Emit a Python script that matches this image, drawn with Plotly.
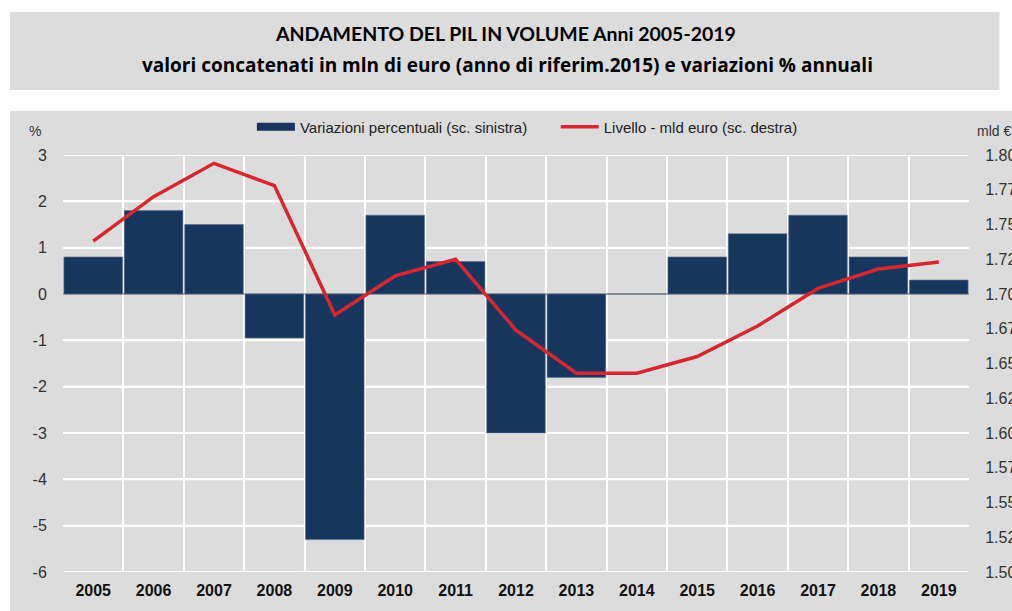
import plotly.graph_objects as go

years = list(range(2005, 2020))
year_labels = [str(y) for y in years]
pct_change = [0.8, 1.8, 1.5, -0.95, -5.3, 1.7, 0.7, -3.0, -1.8, 0.0, 0.8, 1.3, 1.7, 0.8, 0.3]
level_bn = [1.738, 1.770, 1.794, 1.778, 1.685, 1.713, 1.725, 1.674, 1.643, 1.643,
            1.655, 1.677, 1.704, 1.718, 1.723]
right_ticks = [1.5 + 0.025 * i for i in range(13)]
right_labels = ["1.500", "1.525", "1.550", "1.575", "1.600", "1.625", "1.650",
                "1.675", "1.700", "1.725", "1.750", "1.775", "1.800"]
left_ticks = [-6, -5, -4, -3, -2, -1, 0, 1, 2, 3]
left_labels = ["-6", "-5", "-4", "-3", "-2", "-1", "0", "1", "2", "3"]
left_range = [-6, 3]
right_range = [1.5, 1.8]

NAVY = "#17365d"
RED = "#d7262f"
BG = "#dcdcdc"
W, H = 1012, 611
L, R, T, B = 63, 969.5, 155, 572   # plot area in pixels
FONT = "Liberation Sans, Arial, sans-serif"


def px(x):
    return (x - L) / (R - L)


def py(y):
    return (B - y) / (B - T)


x_lo, x_hi = years[0] - 0.5, years[-1] + 0.5

# horizontal grid drawn as short per-year segments (joined visually by the vertical grid)
grid_x, grid_y, zero_x, zero_y = [], [], [], []
for v in left_ticks:
    for yr in years:
        if v == 0:
            zero_x += [yr - 0.5, yr + 0.5, None]
            zero_y += [v, v, None]
        else:
            grid_x += [yr - 0.485, yr + 0.485, None]
            grid_y += [v, v, None]

fig = go.Figure()
fig.add_trace(go.Scatter(x=grid_x, y=grid_y, mode="lines", line=dict(color="white", width=2),
                         hoverinfo="skip", showlegend=False, cliponaxis=False, yaxis="y"))
fig.add_trace(go.Scatter(x=zero_x, y=zero_y, mode="lines", line=dict(color="#8a8a8a", width=1.5),
                         hoverinfo="skip", showlegend=False, yaxis="y"))
# bars on the left scale
fig.add_trace(go.Bar(x=years, y=pct_change, marker=dict(color=NAVY, line=dict(color="#5a6f8c", width=0.6)),
                     showlegend=False, yaxis="y2", name="Variazioni percentuali (sc. sinistra)"))
fig.add_trace(go.Scatter(x=[None], y=[None], mode="lines", line=dict(color=NAVY, width=8), yaxis="y2",
                         name="Variazioni percentuali (sc. sinistra)", legend="legend"))
# level line on the right scale
fig.add_trace(go.Scatter(x=years, y=level_bn, mode="lines", line=dict(color=RED, width=3.5),
                         yaxis="y3", name="Livello - mld euro (sc. destra)", legend="legend2"))


def white_rect(x0, x1, y0, y1):
    return dict(type="rect", xref="paper", yref="paper", x0=px(x0), x1=px(x1), y0=py(y1), y1=py(y0),
                fillcolor="white", line=dict(width=0), layer="below")


frame_shapes = [
    white_rect(-20, 10, -20, 640),      # left white strip
    white_rect(-20, 1040, -20, 12),     # top white strip
    white_rect(-20, 1040, 90, 111),     # gap between title box and chart
    white_rect(1000, 1040, -20, 111),   # right of title box
]

fig.update_layout(
    width=W, height=H,
    margin=dict(l=L, r=W - R, t=T, b=H - B, autoexpand=False),
    paper_bgcolor=BG, plot_bgcolor=BG,
    bargap=0.03,
    xaxis=dict(range=[x_lo, x_hi], tickvals=years, ticktext=year_labels, automargin=False,
               showgrid=False, zeroline=False, ticks="outside", ticklen=4, tickcolor="rgba(0,0,0,0)",
               tickfont=dict(family=FONT, size=16, color="#111", weight="bold"),
               minor=dict(tickvals=[y - 0.5 for y in years] + [x_hi], showgrid=True,
                          gridcolor="white", gridwidth=2, ticks=""),
               fixedrange=True),
    yaxis=dict(range=left_range, tickvals=left_ticks, ticktext=left_labels, automargin=False,
               showgrid=True, gridcolor="white", gridwidth=2, zeroline=False,
               ticks="outside", ticklen=12, tickcolor="rgba(0,0,0,0)",
               tickfont=dict(family=FONT, size=16, color="#333")),
    yaxis2=dict(range=left_range, overlaying="y", side="left", showticklabels=False,
                showgrid=False, zeroline=False, automargin=False, ticks=""),
    yaxis3=dict(range=right_range, overlaying="y", side="right", tickvals=right_ticks,
                ticktext=right_labels, showgrid=False, zeroline=False, automargin=False,
                ticks="outside", ticklen=12, tickcolor="rgba(0,0,0,0)",
                tickfont=dict(family=FONT, size=16, color="#333")),
    legend=dict(x=px(252), y=py(127), xanchor="left", yanchor="middle", bgcolor="rgba(0,0,0,0)",
                font=dict(family=FONT, size=15, color="#222"), itemwidth=38),
    legend2=dict(x=px(556), y=py(127), xanchor="left", yanchor="middle", bgcolor="rgba(0,0,0,0)",
                 font=dict(family=FONT, size=15, color="#222"), itemwidth=38),
    shapes=frame_shapes,
    annotations=[
        dict(text="<b>ANDAMENTO DEL PIL IN VOLUME Anni 2005-2019</b>", xref="paper", yref="paper",
             x=px(506), y=py(33), showarrow=False, xanchor="center", yanchor="middle",
             font=dict(family="Lato, Open Sans, sans-serif", size=19.5, color="black")),
        dict(text="<b>valori concatenati in mln di euro (anno di riferim.2015) e variazioni % annuali</b>",
             xref="paper", yref="paper", x=px(508), y=py(65), showarrow=False, xanchor="center",
             yanchor="middle", font=dict(family="Open Sans, Lato, sans-serif", size=19, color="black")),
        dict(text="%", xref="paper", yref="paper", x=px(35), y=py(131), showarrow=False,
             xanchor="center", yanchor="middle", font=dict(family=FONT, size=14, color="#333")),
        dict(text="mld €", xref="paper", yref="paper", x=px(976), y=py(131), showarrow=False,
             xanchor="left", yanchor="middle", font=dict(family=FONT, size=14, color="#333")),
    ],
)

fig.write_html("out.html", config={"displayModeBar": False},
               post_script="document.body.style.margin='0px';"
                           "document.documentElement.style.overflow='hidden';"
                           "document.body.style.overflow='hidden';")
